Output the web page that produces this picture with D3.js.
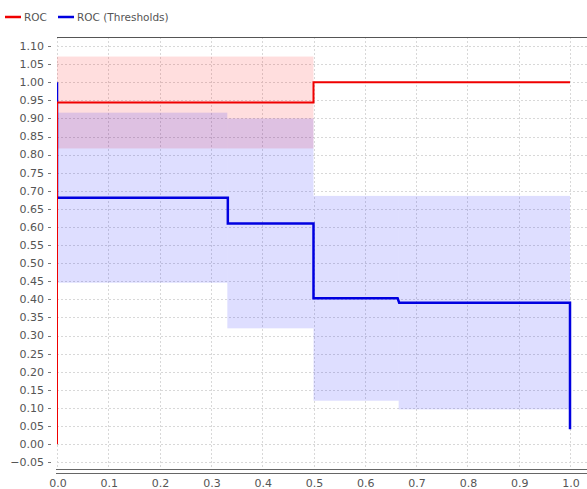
<!DOCTYPE html>
<html>
<head>
<meta charset="utf-8">
<script src="https://cdn.jsdelivr.net/npm/d3@7"></script>
<style>
  body { margin: 0; background: #fff; }
  svg { display: block; }
</style>
</head>
<body>
<script>
// ROC curve: step points
const rocX = [0, 0, 0.5, 0.5, 1.0];
const rocY = [0, 0.944, 0.944, 1.0, 1.0];
// ROC band segments (mean +- std)
const rocBandStart = [0, 0.5];
const rocBandEnd = [0.5, 1.0];
const rocBandMean = [0.944, 1.0];
const rocBandStd = [0.127, 0];

// ROC (Thresholds) curve
const thrX = [0, 0, 0.333, 0.333, 0.5, 0.5, 0.664, 0.667, 1.0, 1.0];
const thrY = [1.0, 0.681, 0.681, 0.61, 0.61, 0.403, 0.403, 0.391, 0.391, 0.041];
const thrBandStart = [0, 0.332, 0.5, 0.666];
const thrBandEnd = [0.332, 0.5, 0.666, 1.0];
const thrBandMean = [0.681, 0.61, 0.403, 0.391];
const thrBandStd = [0.235, 0.29, 0.283, 0.295];

const xTicks = [0, 0.1, 0.2, 0.3, 0.4, 0.5, 0.6, 0.7, 0.8, 0.9, 1.0];
const yTicks = d3.range(-0.05, 1.1001, 0.05);

const seriesNames = ["ROC", "ROC (Thresholds)"];
const seriesColors = ["#f00000", "#0000e0"];

const width = 587, height = 489;
const PLOT = { left: 57, right: 587, top: 37, bottom: 469.5 };
const FONT = "'DejaVu Sans', sans-serif";

const svg = d3.select("body").append("svg")
  .attr("width", width)
  .attr("height", height);

const x = d3.scaleLinear().domain([0, 1]).range([57, 570]);
const y = d3.scaleLinear().domain([-0.07, 1.125]).range([PLOT.bottom, PLOT.top]);

svg.append("clipPath")
  .attr("id", "plotClip")
  .append("rect")
  .attr("x", PLOT.left)
  .attr("y", PLOT.top)
  .attr("width", PLOT.right - PLOT.left)
  .attr("height", PLOT.bottom - PLOT.top);

// grid
const grid = svg.append("g");
grid.selectAll(".hgrid")
  .data(yTicks)
  .join("line")
  .attr("class", "hgrid")
  .attr("x1", PLOT.left)
  .attr("x2", PLOT.right)
  .attr("y1", d => Math.round(y(d)) + 0.5)
  .attr("y2", d => Math.round(y(d)) + 0.5)
  .attr("stroke", "#d8d8d8")
  .attr("stroke-dasharray", "2,2");

grid.selectAll(".vgrid")
  .data(xTicks)
  .join("line")
  .attr("class", "vgrid")
  .attr("x1", d => Math.round(x(d)) + 0.5)
  .attr("x2", d => Math.round(x(d)) + 0.5)
  .attr("y1", PLOT.top)
  .attr("y2", PLOT.bottom)
  .attr("stroke", "#d8d8d8")
  .attr("stroke-dasharray", "2,2");

const plot = svg.append("g").attr("clip-path", "url(#plotClip)");

// std bands
function drawBands(starts, ends, means, stds, fill) {
  plot.append("g")
    .selectAll("rect")
    .data(starts.map((s, i) => ({ s, e: ends[i], m: means[i], sd: stds[i] })).filter(d => d.sd > 0))
    .join("rect")
    .attr("x", d => x(d.s))
    .attr("width", d => x(d.e) - x(d.s))
    .attr("y", d => y(d.m + d.sd))
    .attr("height", d => y(d.m - d.sd) - y(d.m + d.sd))
    .attr("fill", fill);
}
drawBands(rocBandStart, rocBandEnd, rocBandMean, rocBandStd, "rgba(255,0,0,0.13)");
drawBands(thrBandStart, thrBandEnd, thrBandMean, thrBandStd, "rgba(0,0,255,0.13)");

const line = d3.line().x(d => x(d[0])).y(d => y(d[1]));

plot.append("path")
  .datum(thrX.map((v, i) => [v, thrY[i]]))
  .attr("d", line)
  .attr("fill", "none")
  .attr("stroke", seriesColors[1])
  .attr("stroke-width", 2.5);

plot.append("path")
  .datum(rocX.map((v, i) => [v, rocY[i]]))
  .attr("d", line)
  .attr("fill", "none")
  .attr("stroke", seriesColors[0])
  .attr("stroke-width", 2);

// frame lines: top single, bottom double
svg.append("line")
  .attr("x1", PLOT.left).attr("x2", PLOT.right)
  .attr("y1", 37.5).attr("y2", 37.5)
  .attr("stroke", "#555");
[469.5, 473.5].forEach(yy => {
  svg.append("line")
    .attr("x1", 56).attr("x2", PLOT.right)
    .attr("y1", yy).attr("y2", yy)
    .attr("stroke", "#666");
});

// y axis labels
const yAxis = svg.append("g");
yAxis.selectAll("text")
  .data(yTicks)
  .join("text")
  .attr("x", 44)
  .attr("y", d => y(d))
  .attr("dy", "0.35em")
  .attr("text-anchor", "end")
  .attr("font-family", FONT)
  .attr("font-size", 11)
  .attr("fill", "#555")
  .text(d => d3.format(".2f")(Math.abs(d) < 1e-9 ? 0 : d));
yAxis.selectAll("line")
  .data(yTicks)
  .join("line")
  .attr("x1", 48)
  .attr("x2", 51)
  .attr("y1", d => Math.round(y(d)) + 0.5)
  .attr("y2", d => Math.round(y(d)) + 0.5)
  .attr("stroke", "#777");

// x axis labels
svg.append("g")
  .selectAll("text")
  .data(xTicks)
  .join("text")
  .attr("x", d => x(d) + 1)
  .attr("y", 487)
  .attr("text-anchor", "middle")
  .attr("font-family", FONT)
  .attr("font-size", 11)
  .attr("fill", "#555")
  .text(d => d3.format(".1f")(d));

// legend
const legendX = [5, 58];
const legend = svg.append("g");
seriesNames.forEach((name, i) => {
  legend.append("line")
    .attr("x1", legendX[i]).attr("x2", legendX[i] + 16)
    .attr("y1", 17).attr("y2", 17)
    .attr("stroke", seriesColors[i])
    .attr("stroke-width", 2.5);
  legend.append("text")
    .attr("x", legendX[i] + 19)
    .attr("y", 21)
    .attr("font-family", FONT)
    .attr("font-size", 10.5)
    .attr("fill", "#555")
    .text(name);
});
</script>
</body>
</html>
